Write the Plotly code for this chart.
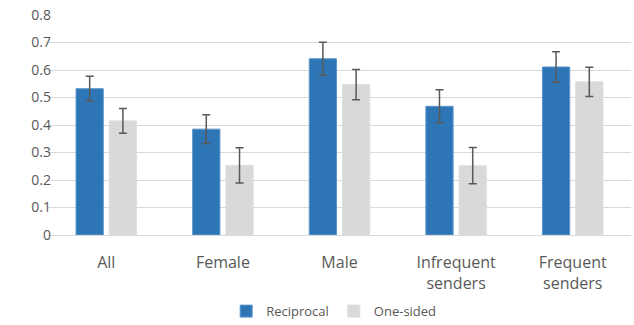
import plotly.graph_objects as go

categories = ["All", "Female", "Male", "Infrequent<br>senders", "Frequent<br>senders"]
reciprocal = [0.532, 0.385, 0.641, 0.468, 0.611]
reciprocal_err = [0.045, 0.052, 0.060, 0.060, 0.055]
one_sided = [0.415, 0.253, 0.547, 0.252, 0.557]
one_sided_err = [0.045, 0.064, 0.055, 0.066, 0.053]
y_ticks = [0, 0.1, 0.2, 0.3, 0.4, 0.5, 0.6, 0.7, 0.8]
y_tick_labels = ["0", "0.1", "0.2", "0.3", "0.4", "0.5", "0.6", "0.7", "0.8"]

err_style = dict(type="data", visible=True, color="#595959", thickness=1.5, width=4)

fig = go.Figure()
fig.add_trace(go.Bar(
    x=categories, y=reciprocal, name="Reciprocal",
    marker=dict(color="#2e75b6", line=dict(color="#5b95cc", width=1)),
    error_y=dict(array=reciprocal_err, **err_style),
))
fig.add_trace(go.Bar(
    x=categories, y=one_sided, name="One-sided",
    marker=dict(color="#d9d9d9", line=dict(color="#dedede", width=1)),
    error_y=dict(array=one_sided_err, **err_style),
))

fig.update_layout(
    width=634, height=325,
    margin=dict(l=48, r=3, t=15, b=90, autoexpand=False),
    paper_bgcolor="white", plot_bgcolor="white",
    barmode="group", bargap=0.43, bargroupgap=0.18,
    font=dict(family="'Open Sans', sans-serif", color="#595959", size=14),
    showlegend=True,
    legend=dict(orientation="h", x=0.49, xanchor="center", y=-0.278, yanchor="top",
                font=dict(size=13, color="#595959"), itemwidth=30,
                traceorder="normal"),
    xaxis=dict(showgrid=False, showline=False, ticks="", automargin=False,
               tickfont=dict(size=16), ticklabelstandoff=16),
    yaxis=dict(range=[0, 0.8], tickvals=y_ticks, ticktext=y_tick_labels,
               showgrid=True, gridcolor="#d9d9d9", gridwidth=1,
               zeroline=True, zerolinecolor="#d9d9d9", zerolinewidth=1,
               showline=False, ticks="", ticklabelposition="outside",
               ticklabelstandoff=-4, automargin=False,
               tickfont=dict(size=14)),
)

fig.write_html("out.html", config={"displayModeBar": False},
               post_script="document.body.style.margin='0';")
